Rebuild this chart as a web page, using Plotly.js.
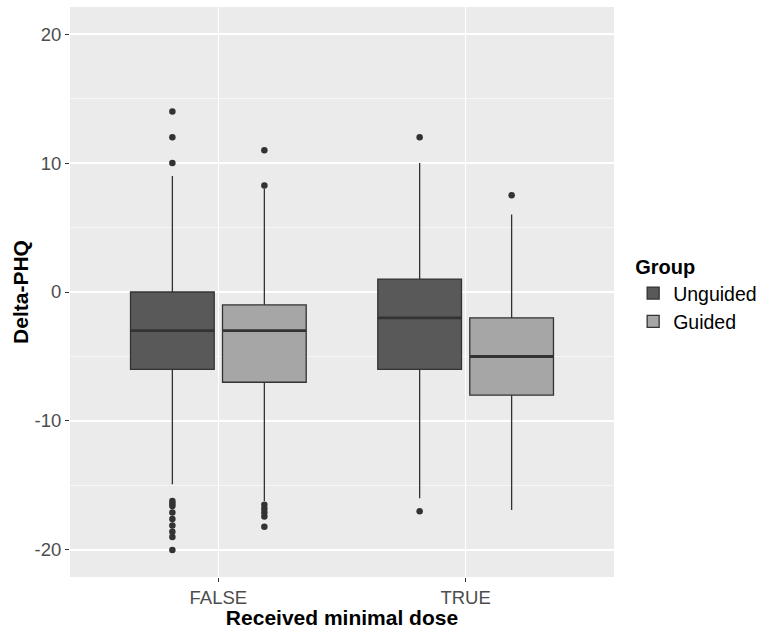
<!DOCTYPE html>
<html>
<head>
<meta charset="utf-8">
<script src="https://cdn.plot.ly/plotly-3.0.1.min.js"></script>
<style>html,body{margin:0;padding:0;background:#fff;}#chart{width:761px;height:629px;}</style>
</head>
<body>
<div id="chart"></div>
<script>
var categories = ['FALSE', 'TRUE'];
var yTickValues = [-20, -10, 0, 10, 20];
var yMinorTickValues = [-15, -5, 5, 15];

var unguidedQ1 = [-6, -6];
var unguidedMedian = [-3, -2];
var unguidedQ3 = [0, 1];
var unguidedLower = [-14.9, -16];
var unguidedUpper = [9, 10];
var unguidedOutliers = [
  [14, 12, 10, -16.2, -16.4, -16.6, -17.1, -17.6, -18.1, -18.6, -19.0, -20.0],
  [12, -17]
];

var guidedQ1 = [-7, -8];
var guidedMedian = [-3, -5];
var guidedQ3 = [-1, -2];
var guidedLower = [-16.2, -16.9];
var guidedUpper = [8, 6];
var guidedOutliers = [
  [11, 8.25, -16.5, -16.8, -17.1, -17.4, -18.2],
  [7.5]
];

var FONT = 'Liberation Sans, Arial, sans-serif';

function boxTrace(name, group, fill, q1, med, q3, lo, hi, pts) {
  return {
    type: 'box', name: name, x: categories, y: pts,
    offsetgroup: group, alignmentgroup: 'all',
    q1: q1, median: med, q3: q3, lowerfence: lo, upperfence: hi,
    boxpoints: 'outliers', jitter: 0, pointpos: 0,
    fillcolor: fill, whiskerwidth: 0,
    line: {color: '#333333', width: 1.3},
    marker: {color: '#333333', size: 6.5, outliercolor: '#333333', line: {width: 0}},
    hoverinfo: 'y'
  };
}

function medianTrace(group, med) {
  return {
    type: 'box', x: categories, showlegend: false,
    offsetgroup: group, alignmentgroup: 'all',
    q1: med, median: med, q3: med, lowerfence: med, upperfence: med,
    boxpoints: false, fillcolor: 'rgba(0,0,0,0)', whiskerwidth: 0,
    line: {color: '#333333', width: 2.8},
    hoverinfo: 'skip'
  };
}

var data = [
  boxTrace('Unguided', 'U', '#595959', unguidedQ1, unguidedMedian, unguidedQ3, unguidedLower, unguidedUpper, unguidedOutliers),
  boxTrace('Guided', 'G', '#A6A6A6', guidedQ1, guidedMedian, guidedQ3, guidedLower, guidedUpper, guidedOutliers),
  medianTrace('U', unguidedMedian),
  medianTrace('G', guidedMedian)
];

var layout = {
  width: 761, height: 629,
  margin: {l: 70, r: 147, t: 7, b: 52},
  paper_bgcolor: '#ffffff', plot_bgcolor: '#EBEBEB',
  boxmode: 'group', boxgap: 0.256, boxgroupgap: 0.09,
  font: {family: FONT, color: '#4D4D4D'},
  xaxis: {
    type: 'category', range: [-0.6, 1.6],
    showgrid: true, gridcolor: '#ffffff', gridwidth: 1.3,
    ticks: 'outside', ticklen: 4, tickcolor: '#333333', tickwidth: 1,
    tickfont: {size: 18.5, color: '#4D4D4D', family: FONT},
    zeroline: false, showline: false, automargin: false,
    title: {text: 'Received minimal dose', font: {size: 21, color: '#000000', family: FONT, weight: 'bold'}}
  },
  yaxis: {
    range: [-22.1, 22.1], tickvals: yTickValues, ticktext: yTickValues.map(String),
    showgrid: true, gridcolor: '#ffffff', gridwidth: 1.3,
    minor: {tickvals: yMinorTickValues, showgrid: true, gridcolor: '#ffffff', gridwidth: 0.6, ticks: ''},
    ticks: 'outside', ticklen: 4, tickcolor: '#333333', tickwidth: 1,
    tickfont: {size: 18.5, color: '#4D4D4D', family: FONT},
    zeroline: false, showline: false, automargin: true,
    title: {text: 'Delta-PHQ', font: {size: 21, color: '#000000', family: FONT, weight: 'bold'}, standoff: 0}
  },
  legend: {
    xref: 'container', yref: 'container',
    x: 0.832, xanchor: 'left', y: 0.532, yanchor: 'middle',
    bgcolor: 'rgba(0,0,0,0)',
    title: {text: 'Group', font: {size: 20, color: '#000000', family: FONT, weight: 'bold'}},
    font: {size: 19.5, color: '#000000', family: FONT},
    tracegroupgap: 0, itemwidth: 30
  },
  showlegend: true
};

Plotly.newPlot('chart', data, layout, {displayModeBar: false, staticPlot: true});
</script>
</body>
</html>
